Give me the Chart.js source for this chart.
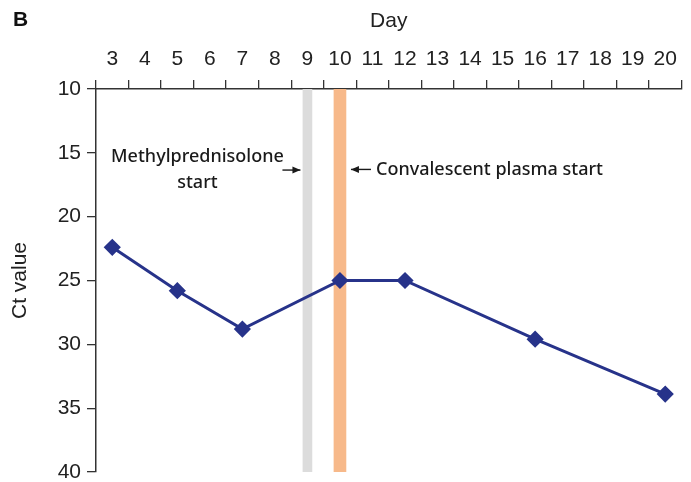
<!DOCTYPE html>
<html>
<head>
<meta charset="utf-8">
<script src="https://cdn.jsdelivr.net/npm/chart.js@4.4.0/dist/chart.umd.min.js"></script>
<style>
  html, body { margin: 0; padding: 0; background: #fff; }
  #wrap { width: 691px; height: 482px; position: relative; }
</style>
</head>
<body>
<div id="wrap"><canvas id="ctChart"></canvas></div>
<script>
// Days shown on the top axis
const dayLabels = ['3','4','5','6','7','8','9','10','11','12','13','14','15','16','17','18','19','20'];
// Sampled days and Ct values
const sampleDays = ['3','5','7','10','12','16','20'];
const ctValues = [22.4, 25.8, 28.8, 25.0, 25.0, 29.6, 33.9];
// Treatment start days
const steroidDay = '9';
const plasmaDay = '10';
const yTicks = [10, 15, 20, 25, 30, 35, 40];

const axisColor = '#333333';
const tickFont = { family: 'Liberation Sans', size: 21 };

// annotations: text + arrows next to the two bands
const annotationPlugin = {
    id: 'annotations',
    afterDatasetsDraw(chart) {
        const { ctx, scales: { x, y } } = chart;
        const xSteroid = x.getPixelForValue(dayLabels.indexOf(steroidDay));
        const xPlasma = x.getPixelForValue(dayLabels.indexOf(plasmaDay));
        ctx.save();
        ctx.fillStyle = '#1a1a1a';
        ctx.strokeStyle = '#1a1a1a';
        ctx.font = '500 18px "Noto Sans"';
        ctx.textBaseline = 'middle';
        ctx.textAlign = 'center';
        ctx.fillText('Methylprednisolone', xSteroid - 110, y.getPixelForValue(15.3));
        ctx.fillText('start', xSteroid - 110, y.getPixelForValue(17.35));
        ctx.textAlign = 'left';
        ctx.fillText('Convalescent plasma start', xPlasma + 36, y.getPixelForValue(16.3));

        function arrow(x0, x1, yy) {
            ctx.lineWidth = 1.4;
            ctx.beginPath();
            ctx.moveTo(x0, yy);
            ctx.lineTo(x1, yy);
            ctx.stroke();
            const d = x1 > x0 ? 1 : -1;
            ctx.beginPath();
            ctx.moveTo(x1, yy);
            ctx.lineTo(x1 - d * 8, yy - 3.5);
            ctx.lineTo(x1 - d * 8, yy + 3.5);
            ctx.closePath();
            ctx.fill();
        }
        arrow(xSteroid - 25, xSteroid - 7, y.getPixelForValue(16.35));
        arrow(xPlasma + 31, xPlasma + 11, y.getPixelForValue(16.3));

        // panel letter
        ctx.font = 'bold 21px "Liberation Sans"';
        ctx.textAlign = 'left';
        ctx.textBaseline = 'top';
        ctx.fillStyle = '#111';
        ctx.fillText('B', 13, 10);
        ctx.restore();
    }
};

const ctx = document.getElementById('ctChart').getContext('2d');
new Chart(ctx, {
    type: 'line',
    data: {
        labels: dayLabels,
        datasets: [
            {
                type: 'line',
                label: 'Ct value',
                data: sampleDays.map((d, i) => ({ x: d, y: ctValues[i] })),
                borderColor: '#27338a',
                backgroundColor: '#27338a',
                borderWidth: 3,
                pointStyle: 'rectRot',
                pointRadius: 6.5,
                tension: 0,
                order: 0
            },
            {
                type: 'bar',
                label: 'Methylprednisolone start',
                data: [{ x: steroidDay, y: [10, 40] }],
                backgroundColor: '#dcdcdc',
                barThickness: 9,
                grouped: false,
                order: 2
            },
            {
                type: 'bar',
                label: 'Convalescent plasma start',
                data: [{ x: plasmaDay, y: [10, 40] }],
                backgroundColor: '#f7b98a',
                barThickness: 12,
                grouped: false,
                order: 1
            }
        ]
    },
    options: {
        responsive: true,
        maintainAspectRatio: false,
        animation: false,
        layout: { padding: { left: 0, right: 6, top: 0, bottom: 10 } },
        plugins: {
            legend: { display: false },
            tooltip: { enabled: false }
        },
        scales: {
            x: {
                type: 'category',
                position: 'top',
                offset: true,
                grid: {
                    offset: true,
                    drawOnChartArea: false,
                    drawTicks: true,
                    tickLength: 9,
                    color: axisColor,
                    lineWidth: 1.3
                },
                border: { color: axisColor, width: 1.5 },
                ticks: { color: '#222', font: tickFont, padding: 8, maxRotation: 0, autoSkip: false },
                title: {
                    display: true,
                    text: 'Day',
                    color: '#222',
                    font: tickFont,
                    padding: { top: 9, bottom: 0 }
                },
                afterFit: (s) => { s.height = 89; s.paddingLeft = 0; s.paddingRight = 0; }
            },
            y: {
                reverse: true,
                min: 10,
                max: 40,
                afterBuildTicks: (s) => { s.ticks = yTicks.map(v => ({ value: v })); },
                grid: {
                    drawOnChartArea: false,
                    drawTicks: true,
                    tickLength: 9,
                    color: axisColor,
                    lineWidth: 1.3
                },
                border: { color: axisColor, width: 1.5 },
                ticks: { color: '#222', font: tickFont, padding: 6 },
                title: {
                    display: true,
                    text: 'Ct value',
                    color: '#222',
                    font: tickFont,
                    padding: { top: 8, bottom: 0 }
                },
                afterFit: (s) => { s.width = 96; s.paddingTop = 0; s.paddingBottom = 0; }
            }
        }
    },
    plugins: [annotationPlugin]
});
</script>
</body>
</html>
